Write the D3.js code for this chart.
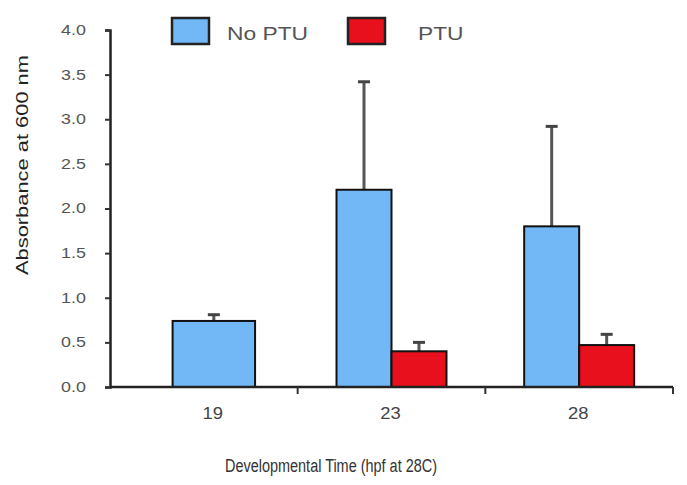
<!DOCTYPE html>
<html><head><meta charset="utf-8">
<script src="https://cdn.jsdelivr.net/npm/d3@7"></script>
<style>body{margin:0;background:#fff}svg{display:block}text{font-family:"Liberation Sans",Arial,sans-serif}</style>
</head><body><svg id="c" width="687" height="485"></svg>
<script>
const categories = ["19", "23", "28"];
const seriesNames = ["No PTU", "PTU"];
const noPTU = [0.74, 2.21, 1.80];
const noPTUErr = [0.07, 1.21, 1.12];
const ptu = [null, 0.40, 0.47];
const ptuErr = [null, 0.10, 0.12];
const yTicks = [0, 0.5, 1, 1.5, 2, 2.5, 3, 3.5, 4];
const colors = ["#72B7F6", "#E8101C"];

const svg = d3.select("#c");
const m = {l:110, r:14, t:30, b:98};
const W = 687, H = 485;
const x = d3.scaleBand().domain(categories).range([m.l, W - m.r]);
const y = d3.scaleLinear().domain([0, 4]).range([H - m.b, m.t]);
const bw = x.bandwidth() * 0.293;
const centre = (c, i) => x(c) + x.bandwidth()/2 + (ptu[i] == null ? 10 : 0);

const data = [];
categories.forEach((c, i) => {
  if (ptu[i] == null) {
    data.push({c, i, s:0, v:noPTU[i], e:noPTUErr[i], x0:centre(c,i) - bw*0.75, w:bw*1.5});
  } else {
    data.push({c, i, s:0, v:noPTU[i], e:noPTUErr[i], x0:centre(c,i) - bw, w:bw});
    data.push({c, i, s:1, v:ptu[i], e:ptuErr[i], x0:centre(c,i), w:bw});
  }
});

// error bars
const eg = svg.append("g");
data.forEach(d => {
  const cx = d.x0 + d.w/2;
  eg.append("line").attr("x1", cx).attr("x2", cx).attr("y1", y(d.v)).attr("y2", y(d.v + d.e))
    .attr("stroke", "#555").attr("stroke-width", 3);
  eg.append("line").attr("x1", cx - 6).attr("x2", cx + 6).attr("y1", y(d.v + d.e)).attr("y2", y(d.v + d.e))
    .attr("stroke", "#444").attr("stroke-width", 3);
});

// bars
svg.append("g").selectAll("rect").data(data).join("rect")
  .attr("x", d => d.x0).attr("width", d => d.w)
  .attr("y", d => y(d.v)).attr("height", d => y(0) - y(d.v))
  .attr("fill", d => colors[d.s]).attr("stroke", "#111").attr("stroke-width", 2);

// y axis
const sx = 1.28;
const ya = svg.append("g").attr("transform", `translate(${m.l},0)`)
  .call(d3.axisLeft(y).tickValues(yTicks).tickFormat(d3.format(".1f")).tickSize(5).tickPadding(10));
ya.select(".domain").attr("stroke", "#222").attr("stroke-width", 2.5);
ya.selectAll(".tick line").attr("stroke", "#333").attr("stroke-width", 2);
ya.selectAll("text").attr("font-size", 14).attr("fill", "#555")
  .attr("x", -24 / sx).attr("transform", `scale(${sx},1)`);

// x axis
const xa = svg.append("g").attr("transform", `translate(0,${y(0)})`);
xa.append("line").attr("x1", m.l).attr("x2", W - m.r).attr("y1", 0).attr("y2", 0)
  .attr("stroke", "#222").attr("stroke-width", 2.5);
categories.forEach((c, i) => {
  const tx = x(c) + x.bandwidth();
  xa.append("line").attr("x1", tx).attr("x2", tx).attr("y1", 0).attr("y2", 7)
    .attr("stroke", "#333").attr("stroke-width", 2);
  xa.append("text").attr("transform", `translate(${centre(c, i) - 1},32) scale(1.15,1)`)
    .attr("text-anchor", "middle").attr("font-size", 16).attr("fill", "#444").text(c);
});

// axis titles
svg.append("text").attr("transform", "translate(28,165) rotate(-90)").attr("text-anchor", "middle")
  .attr("font-size", 17).attr("fill", "#222")
  .attr("textLength", 220).attr("lengthAdjust", "spacingAndGlyphs").text("Absorbance at 600 nm");
svg.append("text").attr("x", 331).attr("y", 472).attr("text-anchor", "middle")
  .attr("font-size", 18).attr("fill", "#333")
  .attr("textLength", 212).attr("lengthAdjust", "spacingAndGlyphs").text("Developmental Time (hpf at 28C)");

// legend
const lg = svg.append("g");
const lx = [172, 348], tx = [227, 418];
seriesNames.forEach((s, i) => {
  lg.append("rect").attr("x", lx[i]).attr("y", 18).attr("width", 37).attr("height", 26)
    .attr("fill", colors[i]).attr("stroke", "#222").attr("stroke-width", 2.5);
  lg.append("text").attr("transform", `translate(${tx[i]},40) scale(1.2,1)`)
    .attr("font-size", 19).attr("fill", "#555").text(s);
});
</script></body></html>
